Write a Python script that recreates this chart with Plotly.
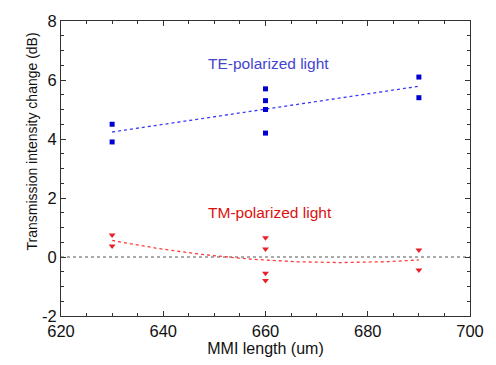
import numpy as np
import plotly.graph_objects as go

te_x = [630, 630, 660, 660, 660, 660, 690, 690]
te_y = [4.5, 3.9, 5.7, 5.3, 5.0, 4.2, 6.1, 5.4]
tm_x = [630, 630, 660, 660, 660, 660, 690, 690]
tm_y = [0.75, 0.37, 0.65, 0.27, -0.55, -0.80, 0.24, -0.44]
x_ticks = [620, 640, 660, 680, 700]
y_ticks = [-2, 0, 2, 4, 6, 8]

font = "Liberation Sans, Arial, sans-serif"

te_fit = np.polyfit(te_x, te_y, 1)
tm_fit = np.polyfit(tm_x, tm_y, 2)
xf = np.linspace(min(te_x), max(te_x), 100)

fig = go.Figure()
fig.add_trace(go.Scatter(x=[620, 700], y=[0, 0], mode="lines",
                         line=dict(color="#555555", width=1, dash="dot"), showlegend=False))
fig.add_trace(go.Scatter(x=xf, y=np.polyval(te_fit, xf), mode="lines",
                         line=dict(color="#3a3aff", width=1.3, dash="dot"), showlegend=False))
fig.add_trace(go.Scatter(x=xf, y=np.polyval(tm_fit, xf), mode="lines",
                         line=dict(color="#ff3a3a", width=1.3, dash="dot"), showlegend=False))
fig.add_trace(go.Scatter(x=te_x, y=te_y, mode="markers",
                         marker=dict(symbol="square", size=5, color="#0000d0"), showlegend=False))
fig.add_trace(go.Scatter(x=tm_x, y=tm_y, mode="markers",
                         marker=dict(symbol="triangle-down", size=6, color="#e8202a"), showlegend=False))

fig.add_annotation(x=660.6, y=6.57, text="TE-polarized light", showarrow=False,
                   font=dict(family=font, size=15.5, color="#4545d0"))
fig.add_annotation(x=660.8, y=1.5, text="TM-polarized light", showarrow=False,
                   font=dict(family=font, size=15.5, color="#dd1010"))
fig.add_annotation(xref="paper", yref="paper", x=-0.095, y=0.592, textangle=-90,
                   text="Transmission intensity change (dB)", showarrow=False,
                   font=dict(family=font, size=14, color="#111111"))

axis_common = dict(showgrid=False, zeroline=False, showline=True, linecolor="#333333",
                   linewidth=1, mirror="allticks", ticks="inside", ticklen=5,
                   tickcolor="#333333", tickfont=dict(family=font, size=16.5, color="#111111"))

fig.update_xaxes(range=[620, 700], tickvals=x_ticks, ticktext=[str(v) for v in x_ticks],
                 minor=dict(dtick=5, tick0=620, ticks="inside", ticklen=3, tickcolor="#333333"),
                 title=dict(text="MMI length (um)", font=dict(family=font, size=16, color="#111111"),
                            standoff=2),
                 **axis_common)
fig.update_yaxes(range=[-2, 8], tickvals=y_ticks, ticktext=[str(v) for v in y_ticks],
                 minor=dict(dtick=0.5, tick0=0, ticks="inside", ticklen=3, tickcolor="#333333"),
                 **axis_common)

fig.update_layout(width=496, height=365, margin=dict(l=61, r=24, t=13, b=47),
                  plot_bgcolor="white", paper_bgcolor="white")

fig.write_html("out.html")
